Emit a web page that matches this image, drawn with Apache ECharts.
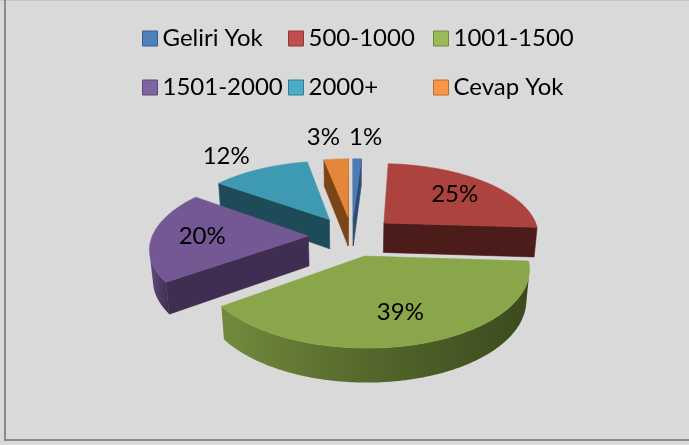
<!DOCTYPE html>
<html>
<head>
<meta charset="utf-8">
<script src="https://cdn.jsdelivr.net/npm/echarts@6/dist/echarts.min.js"></script>
<style>
  html, body { margin: 0; padding: 0; background: #d9d9d9; }
  #chart { width: 689px; height: 445px; }
</style>
</head>
<body>
<div id="chart"></div>
<script>
// Income groups and their shares (percent)
const categories = ['Geliri Yok', '500-1000', '1001-1500', '1501-2000', '2000+', 'Cevap Yok'];
const shares = [1, 25, 39, 20, 12, 3];

// Slice colours: lit top face, shaded side walls, legend swatch + border
const topColors = ['#4a7bb7', '#ad433f', '#8aa64a', '#745893', '#3e9ab3', '#e3883a'];
const wallColors = ['#2c4a72', '#4b1c1a', '#3b4a1e', '#3f2e52', '#1e4b58', '#7b4516'];
const swatchColors = ['#4f81bd', '#c0504d', '#9bbb59', '#8064a2', '#4bacc6', '#f79646'];
const swatchBorders = ['#385d8a', '#8c3836', '#71893f', '#5c4776', '#357d91', '#b66d31'];

// Camera / disc parameters for the perspective 3D pie
const VIEW = { cx: 352, cy: 236, focal: 936, dist: 6, tilt: Math.asin(0.46), depth: 0.22, explode: 0.28 };
const cosT = Math.cos(VIEW.tilt), sinT = Math.sin(VIEW.tilt);
const camZ = VIEW.dist * cosT;
const FONT = '24px Lato, "Open Sans", sans-serif';

function project(X, Y, Z) {
  const up = Y * cosT - Z * sinT;
  const d = VIEW.dist - (Z * cosT + Y * sinT);
  return [VIEW.cx + VIEW.focal * X / d, VIEW.cy - VIEW.focal * up / d];
}

// Angular extent of each slice, clockwise from 12 o'clock
const total = shares.reduce((a, b) => a + b, 0);
const slices = [];
let acc = 0;
shares.forEach((v, i) => {
  const a0 = acc / total * 2 * Math.PI;
  acc += v;
  const a1 = acc / total * 2 * Math.PI;
  const am = (a0 + a1) / 2;
  slices.push({ i, a0, a1, am, ox: VIEW.explode * Math.sin(am), oz: -VIEW.explode * Math.cos(am) });
});

function rimPoint(s, a, Y, r) {
  const k = r == null ? 1 : r;
  return project(s.ox + k * Math.sin(a), Y, s.oz - k * Math.cos(a));
}

function mix(c1, c2, t) {
  const p = c => [1, 3, 5].map(j => parseInt(c.substr(j, 2), 16));
  const a = p(c1), b = p(c2);
  return 'rgb(' + a.map((x, j) => Math.round(x + (b[j] - x) * t)).join(',') + ')';
}

function poly(points, fill) {
  return {
    type: 'polygon',
    shape: { points },
    style: { fill, stroke: typeof fill === 'string' ? fill : null, lineWidth: 0.6, lineJoin: 'round' }
  };
}

function buildSlice(s, value) {
  const h = -VIEW.depth;
  const top = topColors[s.i], wall = wallColors[s.i];
  const children = [];
  const apexTop = project(s.ox, 0, s.oz), apexBot = project(s.ox, h, s.oz);

  // radial walls, kept only when facing the camera
  const toCam = [-s.ox, camZ - s.oz];
  const nStart = [-Math.cos(s.a0), -Math.sin(s.a0)];
  const nEnd = [Math.cos(s.a1), Math.sin(s.a1)];
  [[s.a0, nStart], [s.a1, nEnd]].forEach(([a, n]) => {
    if (n[0] * toCam[0] + n[1] * toCam[1] > 0) {
      children.push(poly([apexTop, rimPoint(s, a, 0), rimPoint(s, a, h), apexBot], wall));
    }
  });

  // curved outer wall: contiguous camera-facing runs
  const steps = Math.max(4, Math.ceil((s.a1 - s.a0) / (Math.PI / 360)));
  let run = [];
  const flush = () => {
    if (run.length > 1) {
      const pts = run.map(a => rimPoint(s, a, 0)).concat(run.slice().reverse().map(a => rimPoint(s, a, h)));
      children.push(poly(pts, {
        type: 'linear', x: 0, y: 0, x2: 1, y2: 0,
        colorStops: [{ offset: 0, color: mix(top, wall, 0.3) }, { offset: 0.5, color: mix(top, wall, 0.7) }, { offset: 1, color: wall }]
      }));
    }
    run = [];
  };
  for (let k = 0; k <= steps; k++) {
    const a = s.a0 + (s.a1 - s.a0) * k / steps;
    const px = s.ox + Math.sin(a), pz = s.oz - Math.cos(a);
    const facing = Math.sin(a) * (0 - px) + (-Math.cos(a)) * (camZ - pz) > 0;
    if (facing) run.push(a); else flush();
  }
  flush();

  // top face
  const topPts = [apexTop];
  for (let k = 0; k <= steps; k++) topPts.push(rimPoint(s, s.a0 + (s.a1 - s.a0) * k / steps, 0));
  children.push(poly(topPts, top));

  // percentage label: inside the top face for large slices, beyond the rim otherwise
  let lx, ly;
  if (value >= 15) {
    [lx, ly] = rimPoint(s, s.am, 0, 0.68);
  } else {
    const rp = rimPoint(s, s.am, 0);
    let dx = rp[0] - apexTop[0], dy = rp[1] - apexTop[1];
    const len = Math.hypot(dx, dy) || 1;
    dx /= len; dy /= len;
    const side = dx < 0 ? -1 : 1;
    lx = rp[0] + dx * 40 + side * 6 * (1 - Math.abs(dx));
    ly = rp[1] + dy * 22;
  }
  children.push({
    type: 'text', x: lx, y: ly, z2: 10,
    style: { text: value + '%', font: FONT, fill: '#000', align: 'center', verticalAlign: 'middle' }
  });
  return { type: 'group', children };
}

// paint far slices first
const order = slices.slice().sort((p, q) => p.oz - q.oz);
const series = order.map((s, rank) => ({
  type: 'custom',
  name: categories[s.i],
  coordinateSystem: 'none',
  silent: true,
  z: 2 + rank,
  itemStyle: { color: swatchColors[s.i] },
  data: [shares[s.i]],
  renderItem: (params, api) => buildSlice(s, api.value(0))
}));

const legendCols = [142, 288, 433];
const legendRows = [26.5, 75.5];
const legend = categories.map((name, i) => ({
  left: legendCols[i % 3],
  top: legendRows[Math.floor(i / 3)],
  padding: 0,
  itemWidth: 15,
  itemHeight: 15,
  icon: 'rect',
  selectedMode: false,
  data: [{ name, itemStyle: { color: swatchColors[i], borderColor: swatchBorders[i], borderWidth: 1 } }],
  textStyle: { fontFamily: 'Lato, "Open Sans", sans-serif', fontSize: 24, lineHeight: 24, color: '#000' }
}));

const chart = echarts.init(document.getElementById('chart'), null, { renderer: 'canvas' });
chart.setOption({
  backgroundColor: '#d9d9d9',
  animation: false,
  legend,
  graphic: [
    { type: 'line', shape: { x1: 0, y1: 0.5, x2: 689, y2: 0.5 }, style: { stroke: '#c4c4c4', lineWidth: 1 } },
    { type: 'line', shape: { x1: 5, y1: 0, x2: 5, y2: 441 }, style: { stroke: '#8a8a8a', lineWidth: 2 } },
    { type: 'line', shape: { x1: 4, y1: 440, x2: 689, y2: 440 }, style: { stroke: '#8a8a8a', lineWidth: 2 } }
  ],
  series
});
</script>
</body>
</html>
